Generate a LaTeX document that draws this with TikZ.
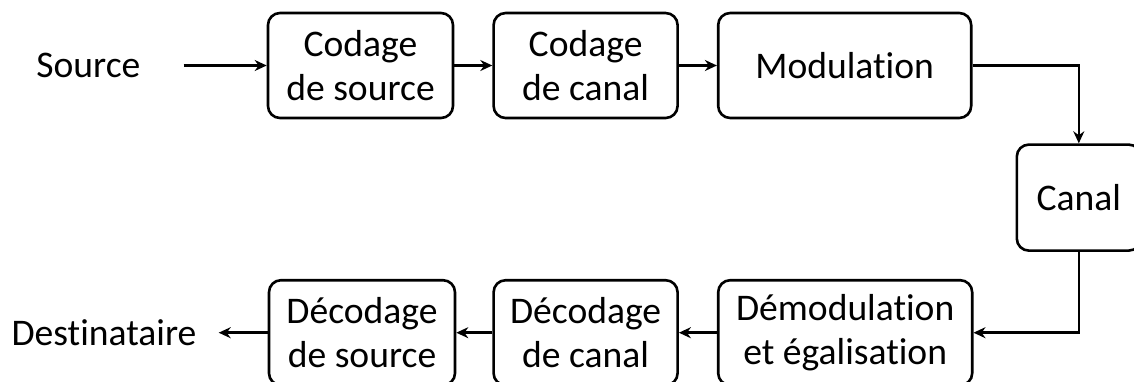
\documentclass[tikz,border=0pt]{standalone}
\usepackage{fontspec}
\setmainfont{Carlito}[Ligatures=NoCommon]
\usetikzlibrary{positioning,arrows.meta}

\begin{document}
\begin{tikzpicture}[
    x=0.5pt, y=-0.5pt,
    every node/.style={
        inner sep=0pt,
        align=center,
        font=\fontsize{18.8}{22}\selectfont
      },
    bloc/.style={
        draw,
        rounded corners=6pt,
        minimum height=52.5pt
      },
    line width=1.3pt,
    >={Stealth[length=6pt,width=5.5pt]},
    node distance=19pt
    ]

    \useasboundingbox (0,0) rectangle (1134,381);

    % ============= EMISSION (HAUT) ==================

    % -------------------------------
    \node[bloc, minimum width=92.5pt] (codsrc) at (360.5,65.5) {Codage\\de source};
    % -------------------------------

    % -------------------------------
    \node[bloc, minimum width=92pt, right=of codsrc] (codcan) {Codage\\de canal};
    % -------------------------------

    % -------------------------------
    \node[bloc, minimum width=126.5pt, right=of codcan] (modul) {Modulation};
    % -------------------------------

    % -------------------------------
    \node[left=62.5pt of codsrc] (src) {Source};
    % -------------------------------


    % ============= CANAL (DROITE) ==================

    % -------------------------------
    \node[bloc, minimum width=62pt, minimum height=53pt,
          below right=12pt and 21.5pt of modul.south east] (canal) {Canal};
    % -------------------------------


    % ============= RECEPTION (BAS) ==================

    % -------------------------------
    \node[bloc, minimum width=127pt,
          below left=13.5pt and 21pt of canal.south west] (demod) {Démodulation\\et égalisation};
    % -------------------------------

    % -------------------------------
    \node[bloc, minimum width=92pt, left=of demod] (deccan) {Décodage\\de canal};
    % -------------------------------

    % -------------------------------
    \node[bloc, minimum width=93pt, left=18pt of deccan] (decsrc) {Décodage\\de source};
    % -------------------------------

    % -------------------------------
    \node[left=35pt of decsrc] (dest) {Destinataire};
    % -------------------------------

    % ============= LIGNES ==================
    \draw[->, shorten <=21pt] (src) -- (codsrc);
    \draw[->] (codsrc) -- (codcan);
    \draw[->] (codcan) -- (modul);
    \draw[->] (modul) -| (canal);
    \draw[->] (canal) |- (demod);
    \draw[->] (demod) -- (deccan);
    \draw[->] (deccan) -- (decsrc);
    \draw[->, shorten >=10.5pt] (decsrc) -- (dest);

  \end{tikzpicture}
\end{document}
